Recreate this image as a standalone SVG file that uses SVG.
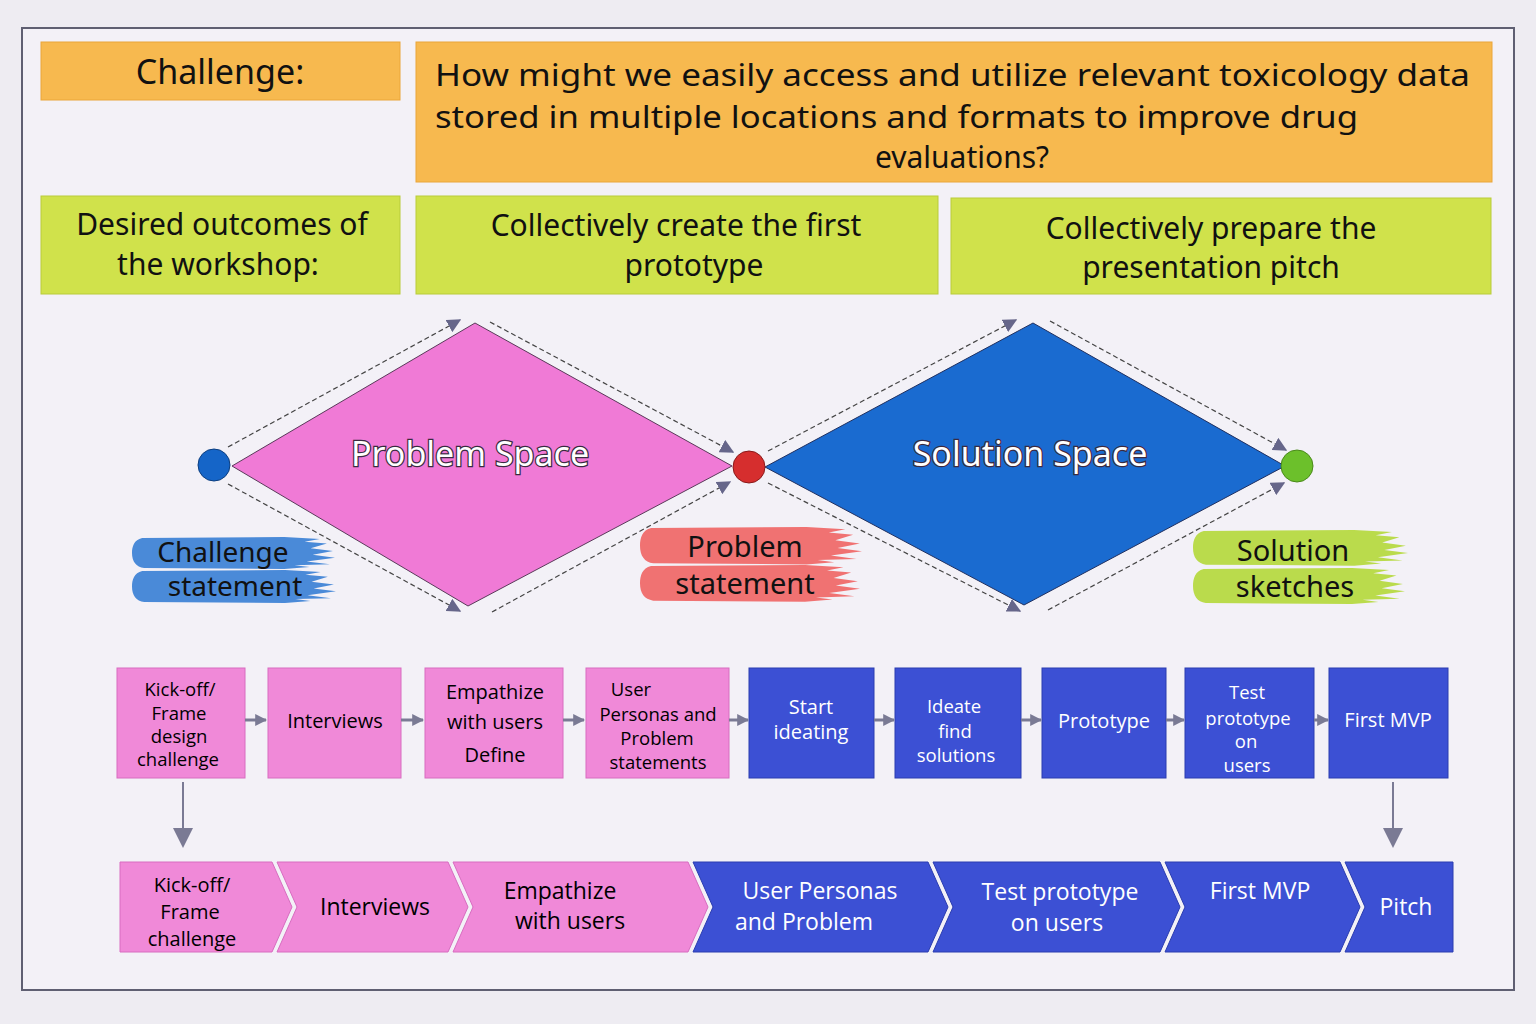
<svg xmlns="http://www.w3.org/2000/svg" width="1536" height="1024" viewBox="0 0 1536 1024">
<defs>
<style>
.hand{font-family:"Noto Sans","DejaVu Sans",sans-serif;fill:#111;text-anchor:middle;dominant-baseline:central}
.proc{font-family:"Open Sans","Noto Sans",sans-serif;font-size:20px;text-anchor:middle;dominant-baseline:central}
.tight{font-size:18.5px}
.chev{font-family:"Open Sans","Noto Sans",sans-serif;font-size:23px;text-anchor:middle;dominant-baseline:central}
.chevs{font-size:20px}
.pinkbox{fill:#f089d8;stroke:#d86cc0;stroke-width:1}
.bluebox{fill:#3c50d4;stroke:#2a3cb0;stroke-width:1}
.orange{fill:#f7b94f;stroke:#eaa63a;stroke-width:1}
.green{fill:#d0e24b;stroke:#b9cc3a;stroke-width:1}
.dash{stroke:#444;stroke-width:1.2;stroke-dasharray:5 3;fill:none;marker-end:url(#tri)}
.solid{stroke:#7a7a94;stroke-width:3;fill:none}
.space{font-family:"Noto Sans","DejaVu Sans",sans-serif;font-size:34px;fill:#fff;stroke:#3a2a40;stroke-width:2.5;paint-order:stroke;text-anchor:middle;dominant-baseline:central}
</style>
<marker id="tri" viewBox="0 0 10 10" refX="9" refY="5" markerWidth="14" markerHeight="14" markerUnits="userSpaceOnUse" orient="auto">
<path d="M0,0 L10,5 L0,10 Z" fill="#66668a"/>
</marker>
<marker id="tri2" viewBox="0 0 10 10" refX="9" refY="5" markerWidth="12" markerHeight="12" markerUnits="userSpaceOnUse" orient="auto">
<path d="M0,0 L10,5 L0,10 Z" fill="#7a7a94"/>
</marker>
<marker id="tri3" viewBox="0 0 10 10" refX="9" refY="5" markerWidth="20" markerHeight="20" markerUnits="userSpaceOnUse" orient="auto">
<path d="M0,0 L10,5 L0,10 Z" fill="#7a7a94"/>
</marker>
<path id="brush" d="M10,1 C2,3 0,10 0,17 C0,26 4,32 12,33 L150,34 L175,32 L160,30 L195,29 L172,26 L200,22 L178,19 L198,15 L176,12 L192,7 L170,5 L185,2 L150,0 Z"/>
</defs>

<rect x="0" y="0" width="1536" height="1024" fill="#eeecf2"/>
<rect x="22" y="28" width="1492" height="962" fill="#f3f1f7" stroke="#5f5f72" stroke-width="2"/>

<g id="challenge-label">
<rect class="orange" x="41" y="42" width="359" height="58"/>
<text class="hand" x="220" y="71" font-size="34">Challenge:</text>
</g>
<g id="challenge-question">
<rect class="orange" x="416" y="42" width="1076" height="140"/>
<text class="hand" x="435" y="74" font-size="30" style="text-anchor:start" textLength="1035" lengthAdjust="spacingAndGlyphs">How might we easily access and utilize relevant toxicology data</text>
<text class="hand" x="435" y="116" font-size="30" style="text-anchor:start" textLength="923" lengthAdjust="spacingAndGlyphs">stored in multiple locations and formats to improve drug</text>
<text class="hand" x="962" y="156" font-size="30">evaluations?</text>
</g>
<g id="outcomes-label">
<rect class="green" x="41" y="196" width="359" height="98"/>
<text class="hand" x="222" y="223" font-size="30">Desired outcomes of</text>
<text class="hand" x="218" y="263" font-size="30">the workshop:</text>
</g>
<g id="outcome-prototype">
<rect class="green" x="416" y="196" width="522" height="98"/>
<text class="hand" x="676" y="224" font-size="30">Collectively create the first</text>
<text class="hand" x="694" y="264" font-size="30">prototype</text>
</g>
<g id="outcome-pitch">
<rect class="green" x="951" y="198" width="540" height="96"/>
<text class="hand" x="1211" y="227" font-size="30">Collectively prepare the</text>
<text class="hand" x="1211" y="266" font-size="30">presentation pitch</text>
</g>

<g id="problem-space">
<polygon points="232,466 475,323 732,466 468,606" fill="#f07ad6" stroke="#5a3a5a" stroke-width="1"/>
<text class="space" x="470" y="453">Problem Space</text>
</g>
<g id="solution-space">
<polygon points="765,467 1033,323 1285,466 1024,605" fill="#1a6bd0" stroke="#203060" stroke-width="1"/>
<text class="space" x="1030" y="453">Solution Space</text>
</g>
<g id="dot-start"><circle cx="214" cy="465" r="16" fill="#1565c8" stroke="#0d3f80" stroke-width="1"/></g>
<g id="dot-mid"><circle cx="749" cy="467" r="16" fill="#d62e2e" stroke="#8a1a1a" stroke-width="1"/></g>
<g id="dot-end"><circle cx="1297" cy="466" r="16" fill="#6cc02b" stroke="#4a8a1a" stroke-width="1"/></g>

<g id="challenge-statement">
<use href="#brush" fill="#4a8ad8" transform="translate(132,537) scale(1.015,0.94)"/>
<use href="#brush" fill="#4a8ad8" transform="translate(132,570) scale(1.02,0.97)"/>
<text class="hand" x="223" y="551" font-size="28">Challenge</text>
<text class="hand" x="235" y="585" font-size="28">statement</text>
</g>
<g id="problem-statement">
<use href="#brush" fill="#f07272" transform="translate(640,527) scale(1.11,1.1)"/>
<use href="#brush" fill="#f07272" transform="translate(640,565) scale(1.1,1.08)"/>
<text class="hand" x="745" y="545" font-size="29">Problem</text>
<text class="hand" x="745" y="582" font-size="29">statement</text>
</g>
<g id="solution-sketches">
<use href="#brush" fill="#badb4c" transform="translate(1193,530) scale(1.075,1.05)"/>
<use href="#brush" fill="#badb4c" transform="translate(1193,568) scale(1.06,1.06)"/>
<text class="hand" x="1293" y="549" font-size="29">Solution</text>
<text class="hand" x="1295" y="585" font-size="29">sketches</text>
</g>

<g id="p1"><rect class="pinkbox" x="117" y="668" width="128" height="110"/>
<text class="proc tight" x="180" y="688">Kick-off/</text><text class="proc tight" x="179" y="712">Frame</text><text class="proc tight" x="179" y="735">design</text><text class="proc tight" x="178" y="758">challenge</text></g>
<g id="p2"><rect class="pinkbox" x="268" y="668" width="133" height="110"/>
<text class="proc" x="335" y="720">Interviews</text></g>
<g id="p3"><rect class="pinkbox" x="425" y="668" width="138" height="110"/>
<text class="proc" x="495" y="691">Empathize</text><text class="proc" x="495" y="721">with users</text><text class="proc" x="495" y="754">Define</text></g>
<g id="p4"><rect class="pinkbox" x="586" y="668" width="143" height="110"/>
<text class="proc tight" x="631" y="688">User</text><text class="proc tight" x="658" y="713">Personas and</text><text class="proc tight" x="657" y="737">Problem</text><text class="proc tight" x="658" y="761">statements</text></g>
<g id="p5" fill="#fff"><rect class="bluebox" x="749" y="668" width="125" height="110"/>
<text class="proc" x="811" y="706">Start</text><text class="proc" x="811" y="731">ideating</text></g>
<g id="p6" fill="#fff"><rect class="bluebox" x="895" y="668" width="126" height="110"/>
<text class="proc tight" x="954" y="705">Ideate</text><text class="proc tight" x="955" y="730">find</text><text class="proc tight" x="956" y="754">solutions</text></g>
<g id="p7" fill="#fff"><rect class="bluebox" x="1042" y="668" width="124" height="110"/>
<text class="proc" x="1104" y="720">Prototype</text></g>
<g id="p8" fill="#fff"><rect class="bluebox" x="1185" y="668" width="129" height="110"/>
<text class="proc tight" x="1247" y="691">Test</text><text class="proc tight" x="1248" y="717">prototype</text><text class="proc tight" x="1246" y="740">on</text><text class="proc tight" x="1247" y="764">users</text></g>
<g id="p9" fill="#fff"><rect class="bluebox" x="1329" y="668" width="119" height="110"/>
<text class="proc" x="1388" y="719">First MVP</text></g>

<g id="c1"><path class="pinkbox" d="M120,862 H272 L292,907 L272,952 H120 Z"/>
<text class="chev chevs" x="192" y="884">Kick-off/</text><text class="chev chevs" x="190" y="911">Frame</text><text class="chev chevs" x="192" y="938">challenge</text></g>
<g id="c2"><path class="pinkbox" d="M277,862 H448 L468,907 L448,952 H277 L297,907 Z"/>
<text class="chev" x="375" y="906">Interviews</text></g>
<g id="c3"><path class="pinkbox" d="M453,862 H688 L708,907 L688,952 H453 L473,907 Z"/>
<text class="chev" x="560" y="890">Empathize</text><text class="chev" x="570" y="920">with users</text></g>
<g id="c4" fill="#fff"><path class="bluebox" d="M693,862 H928 L948,907 L928,952 H693 L713,907 Z"/>
<text class="chev" x="820" y="890">User Personas</text><text class="chev" x="804" y="921">and Problem</text></g>
<g id="c5" fill="#fff"><path class="bluebox" d="M933,862 H1160 L1180,907 L1160,952 H933 L953,907 Z"/>
<text class="chev" x="1060" y="891">Test prototype</text><text class="chev" x="1057" y="922">on users</text></g>
<g id="c6" fill="#fff"><path class="bluebox" d="M1165,862 H1340 L1360,907 L1340,952 H1165 L1185,907 Z"/>
<text class="chev" x="1260" y="890">First MVP</text></g>
<g id="c7" fill="#fff"><path class="bluebox" d="M1345,862 H1453 V952 H1345 L1365,907 Z"/>
<text class="chev" x="1406" y="906">Pitch</text></g>

<g id="connectors">
<line class="dash" x1="228" y1="447" x2="460" y2="320"/>
<line class="dash" x1="490" y1="322" x2="733" y2="452"/>
<line class="dash" x1="228" y1="484" x2="460" y2="611"/>
<line class="dash" x1="492" y1="612" x2="730" y2="482"/>
<line class="dash" x1="768" y1="451" x2="1016" y2="320"/>
<line class="dash" x1="1050" y1="321" x2="1286" y2="450"/>
<line class="dash" x1="768" y1="483" x2="1020" y2="611"/>
<line class="dash" x1="1048" y1="610" x2="1284" y2="483"/>
<line class="solid" x1="245" y1="720" x2="266" y2="720" marker-end="url(#tri2)"/>
<line class="solid" x1="401" y1="720" x2="423" y2="720" marker-end="url(#tri2)"/>
<line class="solid" x1="563" y1="720" x2="584" y2="720" marker-end="url(#tri2)"/>
<line class="solid" x1="729" y1="720" x2="748" y2="720" marker-end="url(#tri2)"/>
<line class="solid" x1="874" y1="720" x2="894" y2="720" marker-end="url(#tri2)"/>
<line class="solid" x1="1021" y1="720" x2="1041" y2="720" marker-end="url(#tri2)"/>
<line class="solid" x1="1166" y1="720" x2="1184" y2="720" marker-end="url(#tri2)"/>
<line class="solid" x1="1314" y1="720" x2="1328" y2="720" marker-end="url(#tri2)"/>
<line x1="183" y1="782" x2="183" y2="846" stroke="#7a7a94" stroke-width="2" marker-end="url(#tri3)"/>
<line x1="1393" y1="782" x2="1393" y2="846" stroke="#7a7a94" stroke-width="2" marker-end="url(#tri3)"/>
</g>
</svg>
